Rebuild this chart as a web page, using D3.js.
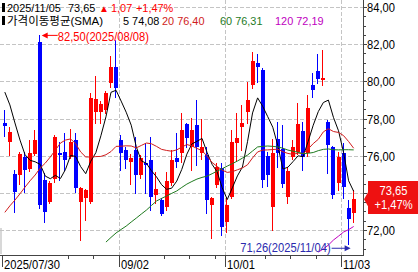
<!DOCTYPE html>
<html><head><meta charset="utf-8">
<script src="https://cdn.jsdelivr.net/npm/d3@7"></script>
<style>
html,body{margin:0;padding:0;background:#fff;overflow:hidden}
svg{display:block}
text{font-family:"Liberation Sans","Noto Sans CJK KR",sans-serif;font-size:13px}
.leg text{font-size:11.5px}
</style></head><body>
<svg id="c" width="418" height="272"></svg>
<script>
// ---------------- data ----------------
const dates = ["2025-07-30","2025-07-31","2025-08-01","2025-08-04","2025-08-05","2025-08-06","2025-08-07","2025-08-08",
"2025-08-11","2025-08-12","2025-08-13","2025-08-14","2025-08-15","2025-08-18","2025-08-19","2025-08-20","2025-08-21","2025-08-22",
"2025-08-25","2025-08-26","2025-08-27","2025-08-28","2025-08-29","2025-09-02","2025-09-03","2025-09-04","2025-09-05",
"2025-09-08","2025-09-09","2025-09-10","2025-09-11","2025-09-12","2025-09-15","2025-09-16","2025-09-17","2025-09-18","2025-09-19",
"2025-09-22","2025-09-23","2025-09-24","2025-09-25","2025-09-26","2025-09-29","2025-09-30","2025-10-01","2025-10-02","2025-10-03",
"2025-10-06","2025-10-07","2025-10-08","2025-10-09","2025-10-10","2025-10-13","2025-10-14","2025-10-15","2025-10-16","2025-10-17",
"2025-10-20","2025-10-21","2025-10-22","2025-10-23","2025-10-24","2025-10-27","2025-10-28","2025-10-29","2025-10-30","2025-10-31",
"2025-11-03","2025-11-04","2025-11-05"];
const opens = [77.76,76.73,75.01,74.96,75.93,75.28,76.09,82.12,74.69,73.50,74.74,76.14,76.20,75.93,76.84,73.50,73.72,73.50,78.35,78.35,
78.46,79.91,80.77,76.84,76.30,75.66,76.30,74.96,75.60,75.77,73.88,73.61,73.24,74.53,75.87,76.14,77.70,76.47,77.65,76.14,
76.03,73.34,74.42,75.33,72.43,73.77,76.68,77.54,78.35,79.80,80.99,80.61,75.98,73.24,76.90,76.36,73.77,75.93,76.20,77.33,
76.14,79.80,80.56,80.07,77.81,76.47,74.53,76.14,73.18,72.91];
const highs = [78.46,77.54,75.23,76.20,76.20,76.84,77.38,82.50,75.07,74.64,77.11,76.73,77.22,77.43,77.22,74.31,74.20,79.37,80.29,78.94,
79.50,81.36,82.22,77.11,76.47,76.09,77.00,76.03,76.68,77.00,75.12,73.70,75.12,76.30,77.22,78.29,77.76,78.03,78.99,78.00,
76.47,73.77,75.60,75.60,73.77,77.38,78.29,78.73,79.96,81.58,81.47,80.70,76.20,76.90,77.81,77.65,75.39,76.84,78.83,77.81,
79.26,80.45,81.47,81.69,77.90,76.50,76.20,76.68,73.61,74.15];
const lows = [77.06,76.03,72.97,74.47,74.04,75.20,76.03,73.18,72.43,73.45,74.60,74.69,75.23,75.85,74.04,71.46,72.54,73.45,77.76,77.76,
78.30,79.69,79.16,75.23,75.33,74.50,73.99,74.80,73.99,73.07,73.45,72.80,73.07,74.40,75.39,75.66,76.49,75.23,75.50,75.80,
72.91,71.57,74.30,71.73,71.89,73.70,75.77,76.30,77.76,79.64,79.96,74.31,74.37,72.00,75.39,74.31,73.45,75.80,76.10,75.23,
76.00,79.16,79.91,79.80,75.07,73.72,74.15,73.72,71.26,72.43];
const closes = [77.60,77.27,74.04,76.09,75.23,76.14,76.84,73.34,72.97,74.53,77.00,76.03,75.77,76.73,74.26,74.26,74.15,79.10,79.05,78.78,
79.37,80.77,79.64,76.14,75.77,75.87,74.96,75.87,75.50,73.77,74.20,72.86,74.64,75.77,75.66,77.38,76.95,77.38,76.47,76.47,
73.61,73.72,75.39,72.16,73.34,76.73,76.95,77.76,78.99,81.09,80.77,74.69,74.96,76.14,76.14,74.47,75.17,76.47,77.70,75.93,
78.56,79.53,80.12,80.18,76.57,73.88,75.93,74.31,72.58,73.65];
const ma5 = [79.42,78.73,77.76,76.84,76.05,75.75,75.67,75.53,74.90,74.76,74.94,74.77,75.26,76.01,75.96,75.41,75.03,75.70,76.16,77.07,
78.09,79.41,79.52,78.94,78.34,77.64,76.48,75.72,75.59,75.19,74.86,74.44,74.19,74.25,74.63,75.26,76.08,76.63,76.77,76.93,
76.18,75.53,75.13,74.27,73.64,74.27,74.91,75.39,76.75,78.30,79.11,78.66,78.10,77.53,76.54,75.28,75.38,75.68,75.99,75.95,
76.77,77.64,78.37,78.86,78.99,78.06,77.34,76.17,74.65,74.08];
const ma20 = [72.95,73.30,73.61,73.95,74.31,74.65,74.96,75.33,75.60,75.93,76.30,76.68,76.84,76.90,76.65,76.20,75.93,75.93,75.95,75.96,
76.05,76.22,76.50,76.51,76.53,76.52,76.42,76.55,76.68,76.64,76.50,76.34,76.28,76.24,76.31,76.46,76.60,76.52,76.39,76.27,
75.98,75.63,75.42,75.22,75.10,75.14,75.24,75.34,75.51,75.88,76.20,76.30,76.31,76.33,76.35,76.21,76.12,76.07,76.14,76.11,
76.36,76.65,76.88,77.28,77.45,77.30,77.25,77.08,76.76,76.40];
const ma60 = [null,null,null,null,null,null,null,null,null,null,null,null,null,null,null,null,null,null,null,null,
71.35,71.60,71.84,72.03,72.21,72.43,72.64,72.86,73.07,73.32,73.56,73.70,73.83,73.97,74.10,74.29,74.47,74.61,74.74,74.83,
74.90,75.03,75.17,75.30,75.44,75.57,75.71,75.87,76.03,76.25,76.47,76.50,76.52,76.50,76.47,76.40,76.30,76.24,76.18,76.11,
76.13,76.17,76.27,76.34,76.36,76.32,76.31,76.32,76.32,76.31];
const ma120 = [null,null,null,null,null,null,null,null,null,null,null,null,null,null,null,null,null,null,null,null,
null,null,null,null,null,null,null,null,null,null,null,null,null,null,null,null,null,null,null,null,
null,null,null,null,null,null,null,null,null,null,null,null,null,null,null,null,null,null,null,null,
null,null,70.81,70.98,71.19,71.46,71.67,71.89,72.02,72.19];
const maPeriods = [5, 20, 60, 120];
const yTickValues = [72, 74, 76, 78, 80, 82, 84];
const xLabelDates = ["2025-07-30", "2025-09-02", "2025-10-01", "2025-11-03"];
const xLabelTexts = ["2025/07/30", "09/02", "10/01", "11/03"];
const legendTitle = "가격이동평균(SMA)";

// ---------------- layout ----------------
const RED = "#ff0000", BLUE = "#0000ff", LOWC = "#2a2aae";
const maColors = ["#000000", "#d01c1c", "#1e7a1e", "#c000c0"];
const plotR = 363, plotB = 255;
const SX = 0.86; // horizontal text compression
const svg = d3.select("#c");
const fmt = v => v.toFixed(2).replace(".", ",");

function T(parent, x, y, str, fill, anchor, sx) {
  const s = sx == null ? SX : sx;
  return parent.append("text")
    .attr("transform", `translate(${x},${y}) scale(${s},1)`)
    .attr("text-anchor", anchor || "start")
    .attr("fill", fill || "#000")
    .text(str);
}

const x = d3.scaleBand().domain(dates).range([2.3, 356.2]).padding(0);
const y = d3.scaleLinear().domain([72, 84]).range([230, 7]);
const xc = i => x(dates[i]) + x.bandwidth() / 2;

svg.append("defs").append("clipPath").attr("id", "plot")
  .append("rect").attr("x", 0).attr("y", 0).attr("width", plotR).attr("height", plotB);

svg.append("rect").attr("x", 0).attr("y", 228).attr("width", 2).attr("height", 26).attr("fill", "#d8d8d8");

// grid
const grid = svg.append("g").attr("stroke", "#c4c4c4").attr("stroke-dasharray", "4,2").attr("shape-rendering", "crispEdges");
yTickValues.forEach(v => {
  grid.append("line").attr("x1", 0).attr("x2", plotR).attr("y1", Math.round(y(v)) + 0.5).attr("y2", Math.round(y(v)) + 0.5);
});
xLabelDates.slice(1).forEach(d => {
  const gx = Math.round(x(d)) + 0.5;
  grid.append("line").attr("x1", gx).attr("x2", gx).attr("y1", 0).attr("y2", plotB);
});

// candles
const cg = svg.append("g").attr("clip-path", "url(#plot)").attr("shape-rendering", "crispEdges");
dates.forEach((d, i) => {
  const o = opens[i], c = closes[i], col = c >= o ? RED : BLUE;
  const bx = Math.round(xc(i) - 2);
  const top = Math.round(y(Math.max(o, c))), bot = Math.round(y(Math.min(o, c)));
  const hi = Math.round(y(highs[i])), lo = Math.round(y(lows[i]));
  cg.append("rect").attr("x", bx + 1).attr("width", 1).attr("y", hi).attr("height", Math.max(1, lo - hi + 1)).attr("fill", col);
  cg.append("rect").attr("x", bx).attr("width", 4).attr("y", top).attr("height", Math.max(1, bot - top)).attr("fill", col);
});

// moving averages
const maSeries = [ma5, ma20, ma60, ma120];
const lg = svg.append("g").attr("clip-path", "url(#plot)").attr("fill", "none").attr("stroke-width", 1);
maSeries.forEach((s, k) => {
  const line = d3.line().defined(d => d != null).x((d, i) => xc(i)).y(d => y(d));
  lg.append("path").attr("d", line(s)).attr("stroke", maColors[k]);
});

// price marker geometry
const last = closes.length - 1;
const chg = closes[last] - closes[last - 1];
const pct = chg / closes[last - 1] * 100;
const cyLast = y(closes[last]);
const boxT = Math.round(cyLast - 18), boxB = Math.round(cyLast + 15);

// axes
const ax = svg.append("g").attr("stroke", "#444").attr("shape-rendering", "crispEdges");
ax.append("line").attr("x1", plotR + 0.5).attr("x2", plotR + 0.5).attr("y1", 0).attr("y2", plotB + 1);
ax.append("line").attr("x1", 0).attr("x2", plotR).attr("y1", plotB + 0.5).attr("y2", plotB + 0.5);
for (let v = 71; v <= 84; v += 0.5) {
  const ty = Math.round(y(v)) + 0.5;
  if (ty > plotB || ty < 0) continue;
  const major = yTickValues.includes(v);
  ax.append("line").attr("x1", plotR).attr("x2", plotR + (major ? 4 : 3)).attr("y1", ty).attr("y2", ty);
}
const yl = svg.append("g");
yTickValues.forEach(v => {
  const ty = y(v);
  if (ty > boxT - 6 && ty < boxB + 6) return; // hidden behind the price marker
  T(yl, plotR + 4, ty + 5, fmt(v), "#000");
});

// x ticks and labels
const xt = svg.append("g");
const labelBoxes = [];
xLabelDates.forEach((d, k) => {
  const tx = Math.round(x(d)) + 0.5;
  xt.append("line").attr("x1", tx).attr("x2", tx).attr("y1", plotB).attr("y2", 267)
    .attr("stroke", "#444").attr("shape-rendering", "crispEdges");
  const t = T(xt, tx + 1.5, 269, xLabelTexts[k], "#000");
  const w = t.node().getComputedTextLength() * SX;
  labelBoxes.push([tx, tx + 2 + w]);
});
const dow = dates.map(d => new Date(d + "T12:00:00Z").getUTCDay());
dates.forEach((d, i) => {
  if (i === 0 || dow[i] >= dow[i - 1]) return;
  const tx = Math.round(x(d)) + 0.5;
  if (labelBoxes.some(b => tx >= b[0] - 1 && tx <= b[1] + 1)) return;
  xt.append("line").attr("x1", tx).attr("x2", tx).attr("y1", plotB).attr("y2", 259)
    .attr("stroke", "#444").attr("shape-rendering", "crispEdges");
});

// high / low annotations
const iHi = d3.maxIndex(highs), iLo = d3.minIndex(lows);
const slash = d => d.replace(/-/g, "/");
const ann = svg.append("g");
{
  const ay = y(highs[iHi]);
  const ax0 = xc(iHi) + 1.5;
  ann.append("line").attr("x1", ax0 + 4).attr("x2", ax0 + 16).attr("y1", ay + 0.5).attr("y2", ay + 0.5).attr("stroke", RED);
  ann.append("path").attr("d", `M${ax0},${ay + 0.5}L${ax0 + 6},${ay - 2.5}L${ax0 + 6},${ay + 3.5}Z`).attr("fill", RED);
  T(ann, ax0 + 16, ay + 6, `${fmt(highs[iHi])}(${slash(dates[iHi])})`, RED);
}
{
  const ly = y(lows[iLo]) + 4;
  const tipX = xc(iLo) + 2;
  T(ann, tipX - 20, ly + 4.5, `${fmt(lows[iLo])}(${slash(dates[iLo])})`, LOWC, "end");
  ann.append("line").attr("x1", tipX - 19).attr("x2", tipX - 4).attr("y1", ly + 0.5).attr("y2", ly + 0.5).attr("stroke", LOWC);
  ann.append("path").attr("d", `M${tipX},${ly + 0.5}L${tipX - 6},${ly - 2.5}L${tipX - 6},${ly + 3.5}Z`).attr("fill", LOWC);
}

// price marker
{
  const bl = 368, br = 418;
  svg.append("path").attr("d", `M${plotR + 1},${cyLast}L${bl},${cyLast - 7}L${bl},${boxT}L${br},${boxT}L${br},${boxB}L${bl},${boxB}L${bl},${cyLast + 7}Z`)
    .attr("fill", "#ee1111");
  T(svg, 393.5, cyLast - 4.5, fmt(closes[last]), "#fff", "middle");
  T(svg, 393.5, cyLast + 10, (chg >= 0 ? "+" : "") + fmt(pct) + "%", "#fff", "middle");
}

// legend
const leg = svg.append("g").attr("class", "leg");
leg.append("rect").attr("x", 2).attr("y", 3).attr("width", 3).attr("height", 9).attr("fill", "#000");
leg.append("rect").attr("x", 2).attr("y", 16).attr("width", 3).attr("height", 9).attr("fill", "#000");
const LS = 0.95, L1 = 12, L2 = 25;
T(leg, 7, L1, slash(dates[last]), "#000", "start", LS);
T(leg, 68, L1, fmt(closes[last]), "#000", "start", LS);
T(leg, 99, L1, chg >= 0 ? "▲" : "▼", RED, "start", 1).style("font-size", "10px");
T(leg, 111, L1, fmt(Math.abs(chg)), RED, "start", LS);
T(leg, 136, L1, (chg >= 0 ? "+" : "") + fmt(pct) + "%", RED, "start", LS);
T(leg, 7, L2, legendTitle, "#000", "start", 1);
const legX = [123, 162, 220, 275];
maSeries.forEach((s, k) => {
  T(leg, legX[k], L2, `${maPeriods[k]} ${fmt(s[s.length - 1])}`, maColors[k], "start", LS);
});
</script>
</body></html>
